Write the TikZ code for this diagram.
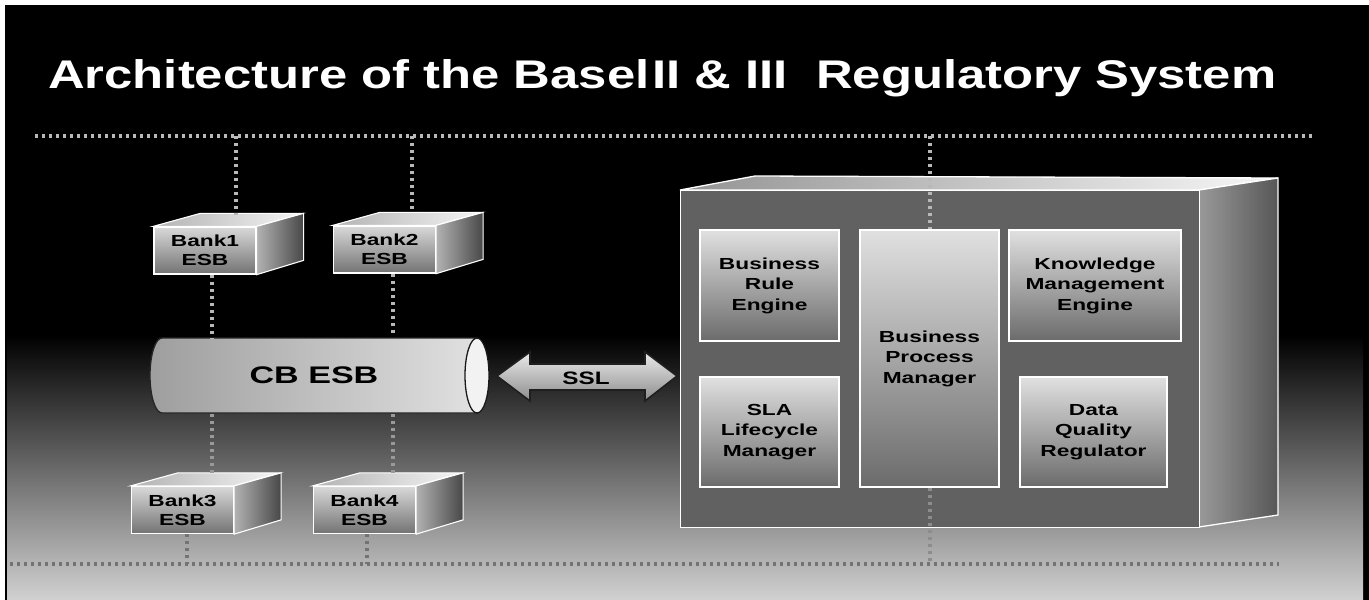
\documentclass[tikz,border=0pt]{standalone}
\usepackage{fontspec}
\setmainfont{Liberation Sans}
\newfontfamily\titlefont[FakeStretch=1.27]{Liberation Sans}
\newfontfamily\boxfont[FakeStretch=1.42]{Liberation Sans}
\newfontfamily\sslfont[FakeStretch=1.35]{Liberation Sans}
\newcommand\bankcube[4]{%
  \node[bankface] (#1) at (#2,#3) {#4};
  \path[banktop] (#1.north west) -- ++(47,-13) -- ++(102,0) -- (#1.north east) -- cycle;
  \path[bankside] (#1.north east) -- ++(47,-13) -- ++(0,47) -- (#1.south east) -- cycle;
}
\begin{document}
\begin{tikzpicture}[x=1pt,y=-1pt,
  dots/.style={draw=black!28, line width=3.2pt, dash pattern=on 3.2pt off 3.8pt},
  dotslow/.style={draw=black!55, line width=3.2pt, dash pattern=on 3.2pt off 3.8pt},
  bankface/.style={draw=white, line width=1.3pt, top color=black!15, bottom color=black!55,
    minimum width=102pt, minimum height=47pt, inner sep=0pt, align=center,
    font=\boxfont\fontsize{16}{19}\selectfont\bfseries, text=black},
  banktop/.style={draw=white, line width=1.1pt, left color=black!30, right color=black!4},
  bankside/.style={draw=white, line width=1.1pt, left color=black!30, right color=black!72},
  inner/.style={draw=white, line width=1.3pt, top color=black!12, bottom color=black!58,
    inner sep=0pt, align=center, font=\boxfont\fontsize{16}{20.5}\selectfont\bfseries, text=black},
]
\useasboundingbox (0,0) rectangle (1369,600);
% background
\fill[white] (0,0) rectangle (1369,600);
\fill[black] (5,5) rectangle (1369,600);
\shade[top color=black, middle color=black!52, bottom color=black!18] (7,335) rectangle (1363,600);

% title
\node[anchor=base west, inner sep=0pt, text=white, font=\titlefont\fontsize{40}{48}\selectfont\bfseries] (title) at (48,88)
  {Architecture of the Basel\kern3pt II \& III\ \ Regulatory System};

% guide lines
\coordinate (tl) at (35,136);
\coordinate (tr) at (1312,136);
\coordinate (bl) at (10,564);
\coordinate (br) at (1279,564);
\draw[dots] (tl) -- (tr);
\draw[dotslow] (bl) -- (br);

% CB ESB cylinder
\path[draw=black!85, line width=1.3pt, left color=black!38, right color=black!12]
  (477,338) -- (162,338) .. controls (155.4,338) and (150,354.8) .. (150,375.5)
  .. controls (150,396.2) and (155.4,413) .. (162,413) -- (477,413) -- cycle;
\path[draw=black!90, line width=1.3pt, fill=black!5] (477,375.5) ellipse [x radius=12pt, y radius=37.5pt];
\node[font=\boxfont\fontsize{24}{30}\selectfont\bfseries, text=black, inner sep=0pt] (cb) at (314,375.5) {CB ESB};
\coordinate (cbtl) at (212,338);
\coordinate (cbtr) at (393,336);
\coordinate (cbbl) at (212,414);
\coordinate (cbbr) at (393,414);

% bank cubes
\bankcube{bank1}{205}{250.5}{Bank1\\ESB}
\bankcube{bank2}{384.5}{249.5}{Bank2\\ESB}
\bankcube{bank3}{182.5}{510}{Bank3\\ESB}
\bankcube{bank4}{364.5}{510}{Bank4\\ESB}

% vertical dotted links
\coordinate (b1t) at (236,215);
\coordinate (b2t) at (412,212);
\coordinate (b3t) at (212,476);
\coordinate (b4t) at (393,474);
\draw[dots] (236,136) -- (b1t);
\draw[dots] (412,136) -- (b2t);
\draw[dots] (bank1.south -| cbtl) -- (cbtl);
\draw[dots] (bank2.south -| cbtr) -- (cbtr);
\draw[dots, draw=black!40] (cbbl) -- (b3t);
\draw[dots, draw=black!40] (cbbr) -- (b4t);
\draw[dotslow] (bank3.south -| 187,0) -- (bl -| 187,0);
\draw[dotslow] (bank4.south -| 367,0) -- (bl -| 367,0);

% SSL arrow
\path[draw=black!88, line width=1.6pt, top color=black!8, bottom color=black!45]
  (497,376) -- (530,352) -- (530,364) -- (645,364) -- (645,352) -- (677,376)
  -- (645,401) -- (645,390) -- (530,390) -- (530,401) -- cycle;
\node[font=\sslfont\fontsize{18}{22}\selectfont\bfseries, text=black, inner sep=0pt] (ssl) at (586,378) {SSL};

% big system box
\path[draw=white, line width=1.3pt, left color=black!42, right color=black!3]
  (680,190) -- (755,176) -- (1278,178) -- (1199,190) -- cycle;
\path[draw=white, line width=1.3pt, left color=black!40, right color=black!66]
  (1199,190) -- (1278,178) -- (1278,515) -- (1199,527) -- cycle;
\node[draw=white, line width=1.3pt, fill=black!62, minimum width=519pt, minimum height=337pt,
  inner sep=0pt, anchor=north west] (sys) at (680,190) {};
\draw[dots] (930,136) -- (930,230);

% inner boxes
\node[inner, minimum width=139pt, minimum height=111pt] (bre) at (769.5,285.5) {Business\\Rule\\Engine};
\node[inner, minimum width=139pt, minimum height=257pt] (bpm) at (929.5,358.5) {Business\\Process\\Manager};
\node[inner, minimum width=172pt, minimum height=111pt] (kme) at (1095,285.5) {Knowledge\\Management\\Engine};
\node[inner, minimum width=139pt, minimum height=110pt] (sla) at (769.5,432) {SLA\\Lifecycle\\Manager};
\node[inner, minimum width=147pt, minimum height=110pt] (dqr) at (1093.5,432) {Data\\Quality\\Regulator};

\draw[dots, draw=black!45] (bpm.south -| 930,0) -- (bl -| 930,0);
\end{tikzpicture}
\end{document}
